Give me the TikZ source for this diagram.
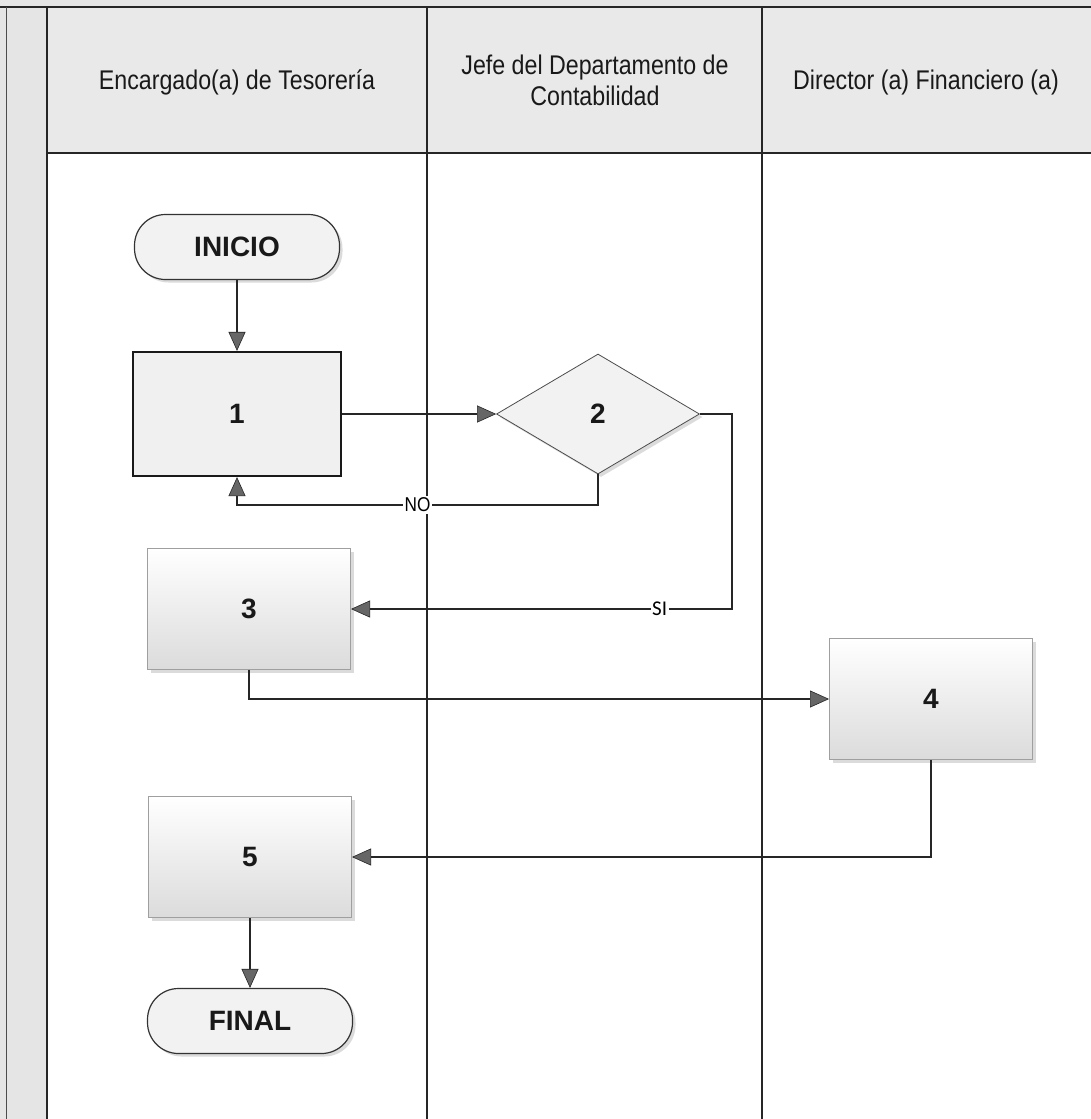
\documentclass[tikz,border=0pt]{standalone}
\usepackage{fontspec}
\setmainfont{Liberation Sans}
\newfontfamily\headfont[FakeStretch=0.86]{Liberation Sans}
\newfontfamily\yesfont{Carlito}
\usetikzlibrary{arrows.meta,shapes.geometric,shadows}

\begin{document}
\begin{tikzpicture}[x=1pt,y=-1pt,
  lane/.style={draw=black!85, line width=1.4pt},
  headtext/.style={font=\headfont\fontsize{27}{31}\selectfont, align=center, text=black!90},
  stepnum/.style={font=\bfseries\fontsize{28}{32}\selectfont, text=black!90},
  softshadow/.style={drop shadow={shadow xshift=3pt, shadow yshift=-3pt, fill=gray!35, opacity=0.8}},
  terminal/.style={stepnum, draw=black!80, line width=1.2pt, rounded corners=31pt,
    minimum width=205pt, minimum height=65pt, fill=gray!10, softshadow},
  mainbox/.style={stepnum, draw=black!90, line width=2.2pt, minimum width=208pt,
    minimum height=124pt, fill=gray!12},
  stepbox/.style={stepnum, draw=gray!75, line width=1pt, minimum width=203pt,
    minimum height=121pt, top color=white, bottom color=gray!28, softshadow},
  decision/.style={stepnum, diamond, draw=black!70, line width=0.8pt, inner sep=0pt,
    minimum width=203pt, minimum height=120pt, fill=gray!10, softshadow},
  flow/.style={draw=black!85, line width=2pt,
    -{Triangle[length=19pt,width=17pt,line width=0.6pt,fill=black!60]}},
  branch/.style={fill=white, inner sep=1.5pt}
]
\useasboundingbox (0,0) rectangle (1091,1119);

% page background, top band and left strip
\fill[white] (0,0) rectangle (1091,1119);
\fill[gray!20] (0,0) rectangle (1091,7);
\fill[gray!20] (0,0) rectangle (47,1119);
\fill[gray!17] (47,7) rectangle (1091,153);

% swimlane frame
\draw[lane] (0,7) -- (1091,7);
\draw[black!70, line width=1pt] (6,7) -- (6,1119);
\draw[lane, line width=2pt] (47,7) -- (47,1119);
\draw[lane] (427,7) -- (427,1119);
\draw[lane] (762,7) -- (762,1119);
\draw[lane] (47,153) -- (1091,153);

% lane headers
\node[headtext] (h1) at (237,82) {Encargado(a) de Tesorería};
\node[headtext] (h2) at (595,80) {Jefe del Departamento de\\Contabilidad};
\node[headtext] (h3) at (926,83) {Director (a) Financiero (a)};

% process steps
\node[terminal] (ini) at (237,247) {INICIO};
\node[mainbox] (b1) at (237,414) {1};
\node[decision] (d2) at (598,414) {2};
\node[stepbox] (b3) at (249,609) {3};
\node[stepbox] (b4) at (931,699) {4};
\node[stepbox] (b5) at (250,857) {5};
\node[terminal] (fin) at (250,1021) {FINAL};

% routing corners
\coordinate (noturn) at (598,505);
\coordinate (siturn) at (732,414);

% connectors
\draw[flow] (ini) -- (b1);
\draw[flow] (b1.east) -- (d2.west);
\draw[flow] (d2.south) -- (noturn) -| node[branch, pos=0.25,
  font=\headfont\fontsize{20}{22}\selectfont] {NO} (b1.south);
\draw[flow] (d2.east) -- (siturn) |- node[branch, pos=0.595,
  font=\yesfont\fontsize{21}{23}\selectfont] {SI} (b3.east);
\draw[flow] (b3.south) |- (b4.west);
\draw[flow] (b4.south) |- (b5.east);
\draw[flow] (b5) -- (fin);
\end{tikzpicture}
\end{document}
